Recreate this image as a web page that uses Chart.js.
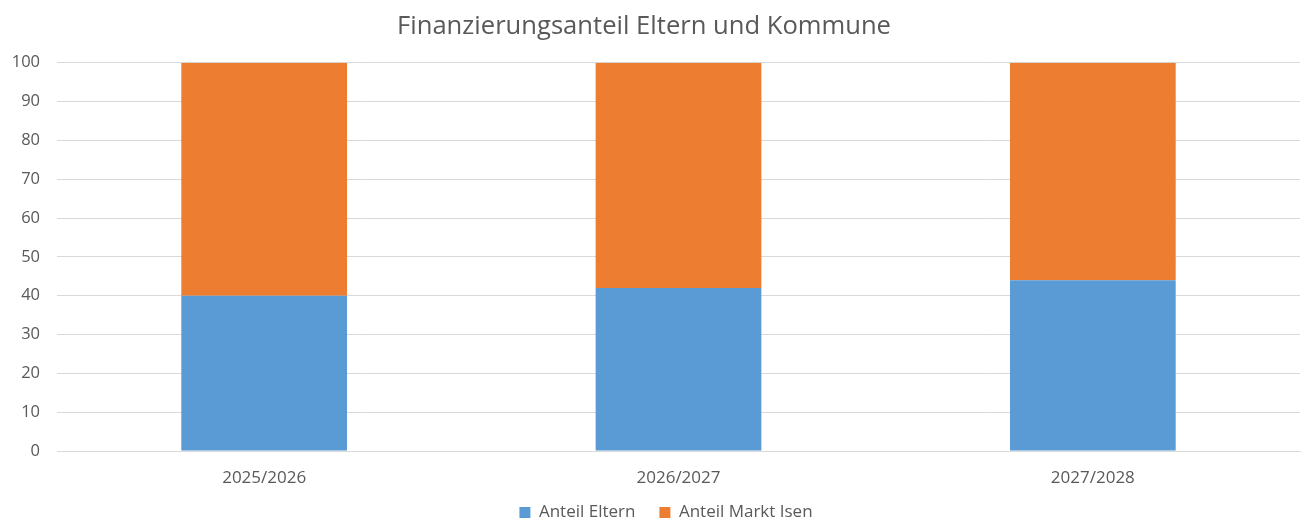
<!DOCTYPE html>
<html>
<head>
<meta charset="utf-8">
<script src="https://cdn.jsdelivr.net/npm/chart.js@4/dist/chart.umd.min.js"></script>
<style>
  html, body { margin: 0; padding: 0; background: #fff; }
  #wrap { width: 1308px; height: 523px; position: relative; }
</style>
</head>
<body>
<div id="wrap"><canvas id="chart"></canvas></div>
<script>
const categories = ['2025/2026', '2026/2027', '2027/2028'];
const anteilEltern = [40, 42, 44];
const anteilMarktIsen = [60, 58, 56];
const yTicks = [0, 10, 20, 30, 40, 50, 60, 70, 80, 90, 100];

const textColor = '#595959';
const gridColor = '#d9d9d9';
const fontFamily = "'Open Sans', 'Noto Sans', sans-serif";

// nudge title left and legend right/up, as in the original layout
const shiftBlocks = {
  id: 'shiftBlocks',
  afterLayout(chart) {
    if (chart.titleBlock) {
      chart.titleBlock.left -= 10;
      chart.titleBlock.right -= 10;
    }
    if (chart.legend) {
      chart.legend.left += 12;
      chart.legend.right += 12;
      chart.legend.top -= 12;
      chart.legend.bottom -= 12;
    }
  },
};

new Chart(document.getElementById('chart'), {
  type: 'bar',
  data: {
    labels: categories,
    datasets: [
      {
        label: 'Anteil Eltern',
        data: anteilEltern,
        backgroundColor: '#5b9bd5',
        barPercentage: 0.4,
        categoryPercentage: 1,
      },
      {
        label: 'Anteil Markt Isen',
        data: anteilMarktIsen,
        backgroundColor: '#ed7d31',
        barPercentage: 0.4,
        categoryPercentage: 1,
      },
    ],
  },
  plugins: [shiftBlocks],
  options: {
    responsive: true,
    maintainAspectRatio: false,
    animation: false,
    layout: { padding: { left: 8, right: 8, top: 0, bottom: -20 } },
    plugins: {
      title: {
        display: true,
        text: 'Finanzierungsanteil Eltern und Kommune',
        color: textColor,
        font: { family: fontFamily, size: 25.6, weight: 'normal' },
        padding: { top: 11, bottom: 21 },
      },
      legend: {
        position: 'bottom',
        labels: {
          color: textColor,
          font: { family: fontFamily, size: 17 },
          boxWidth: 11,
          boxHeight: 11,
          padding: 24,
        },
      },
      tooltip: { enabled: false },
    },
    scales: {
      x: {
        stacked: true,
        afterFit: (axis) => {
          axis.height = 41;
        },
        grid: { display: false, drawTicks: false },
        border: { color: gridColor },
        ticks: { color: textColor, font: { family: fontFamily, size: 17 }, padding: 17 },
      },
      y: {
        stacked: true,
        min: 0,
        max: 100,
        afterBuildTicks: (axis) => {
          axis.ticks = yTicks.map((v) => ({ value: v }));
        },
        afterFit: (axis) => {
          axis.width = 49;
        },
        grid: { color: gridColor, drawTicks: false },
        border: { display: false },
        ticks: { color: textColor, font: { family: fontFamily, size: 16.5 }, padding: 17 },
      },
    },
  },
});
</script>
</body>
</html>
